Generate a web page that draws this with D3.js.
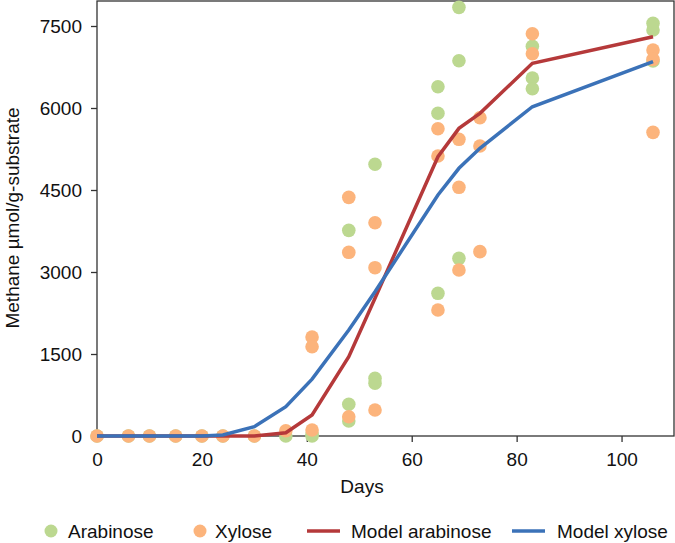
<!DOCTYPE html>
<html>
<head>
<meta charset="utf-8">
<script src="https://cdn.jsdelivr.net/npm/d3@7"></script>
<style>
  body { margin: 0; background: #fff; }
  svg text { font-family: "Liberation Sans", Arial, sans-serif; fill: #111; }
</style>
</head>
<body>
<svg id="chart" width="675" height="543"></svg>
<script>
// sampling days (measured replicates per day)
const pointDays = [0, 6, 10, 15, 20, 24, 30, 36, 41, 48, 53, 65, 69, 73, 83, 106];
const arabinose = [[0], [0], [0], [0], [0], [0], [0], [0], [0, 30],
    [3762, 580, 274], [4970, 1055, 964], [6389, 5903, 2610], [7841, 6865, 3250],
    [], [7128, 6548, 6353], [7549, 7427, 6860]];
const xylose = [[0], [0], [0], [0], [0], [0], [0], [97], [1811, 1633, 110],
    [4366, 3360, 353], [3902, 3079, 476], [5621, 5122, 2305], [5427, 4549, 3036],
    [5822, 5305, 3372], [7359, 6993], [7061, 6890, 5555]];

// model curves
const modelDays = [0, 6, 10, 15, 20, 24, 30, 36, 41, 48, 53, 65, 69, 73, 83, 106];
const modelArabinose = [0, 0, 0, 0, 0, 0, 0, 60, 384, 1450, 2520, 5109, 5628, 5903, 6817, 7304];
const modelXylose = [0, 0, 0, 0, 0, 20, 170, 536, 1040, 1939, 2640, 4408, 4897, 5262, 6023, 6849];

const xTicks = [0, 20, 40, 60, 80, 100];
const yTicks = [0, 1500, 3000, 4500, 6000, 7500];

const green = "#bcd890", orange = "#fcb47c", red = "#b5393a", blue = "#3b72b8";
const fs = 19;

const svg = d3.select("#chart");
const pLeft = 97, pRight = 674, pTop = 1, pBottom = 436;

const x = d3.scaleLinear().domain([0, 110]).range([pLeft, pRight]);
const y = d3.scaleLinear().domain([0, 7500]).range([pBottom, 26]);

// frame
svg.append("rect")
    .attr("x", pLeft).attr("y", pTop)
    .attr("width", pRight - pLeft).attr("height", pBottom - pTop)
    .attr("fill", "none").attr("stroke", "#333").attr("stroke-width", 1.3);

// axes
const xAxis = svg.append("g")
    .attr("transform", `translate(0,${pBottom})`)
    .call(d3.axisBottom(x).tickValues(xTicks).tickFormat(d3.format("d")).tickSize(6).tickPadding(11));
const yAxis = svg.append("g")
    .attr("transform", `translate(${pLeft},0)`)
    .call(d3.axisLeft(y).tickValues(yTicks).tickFormat(d3.format("d")).tickSize(6).tickPadding(9));
[xAxis, yAxis].forEach(function(g) {
    g.select(".domain").remove();
    g.selectAll(".tick line").attr("stroke", "#333").attr("stroke-width", 1.3);
    g.selectAll(".tick text")
        .attr("font-family", "Liberation Sans, Arial, sans-serif")
        .attr("font-size", fs).attr("fill", "#111");
});

// axis titles
svg.append("text")
    .attr("x", 362).attr("y", 493)
    .attr("text-anchor", "middle").attr("font-size", fs)
    .text("Days");
svg.append("text")
    .attr("transform", "translate(19,218) rotate(-90)")
    .attr("text-anchor", "middle").attr("font-size", fs)
    .text("Methane µmol/g-substrate");

// flatten replicate points
function flat(series) {
    let out = [];
    series.forEach(function(vals, i) {
        vals.forEach(function(v) { out.push([pointDays[i], v]); });
    });
    return out;
}

svg.append("g").selectAll("circle")
    .data(flat(arabinose)).enter().append("circle")
    .attr("cx", d => x(d[0])).attr("cy", d => y(d[1]))
    .attr("r", 6.8).attr("fill", green);
svg.append("g").selectAll("circle")
    .data(flat(xylose)).enter().append("circle")
    .attr("cx", d => x(d[0])).attr("cy", d => y(d[1]))
    .attr("r", 6.8).attr("fill", orange);

// model lines
const line = d3.line().x(d => x(d[0])).y(d => y(d[1]));
svg.append("path")
    .datum(modelDays.map((d, i) => [d, modelArabinose[i]]))
    .attr("d", line).attr("fill", "none")
    .attr("stroke", red).attr("stroke-width", 3.5);
svg.append("path")
    .datum(modelDays.map((d, i) => [d, modelXylose[i]]))
    .attr("d", line).attr("fill", "none")
    .attr("stroke", blue).attr("stroke-width", 3.5);

// legend
const legY = 531;
const legend = svg.append("g");
legend.append("circle").attr("cx", 51).attr("cy", legY).attr("r", 6.5).attr("fill", green);
legend.append("text").attr("x", 68).attr("y", legY + 7).attr("font-size", fs).text("Arabinose");
legend.append("circle").attr("cx", 200).attr("cy", legY).attr("r", 6.5).attr("fill", orange);
legend.append("text").attr("x", 215).attr("y", legY + 7).attr("font-size", fs).text("Xylose");
legend.append("line").attr("x1", 307).attr("x2", 340).attr("y1", legY).attr("y2", legY)
    .attr("stroke", red).attr("stroke-width", 3.5);
legend.append("text").attr("x", 351).attr("y", legY + 7).attr("font-size", fs).text("Model arabinose");
legend.append("line").attr("x1", 512).attr("x2", 545).attr("y1", legY).attr("y2", legY)
    .attr("stroke", blue).attr("stroke-width", 3.5);
legend.append("text").attr("x", 557).attr("y", legY + 7).attr("font-size", fs).text("Model xylose");
</script>
</body>
</html>
